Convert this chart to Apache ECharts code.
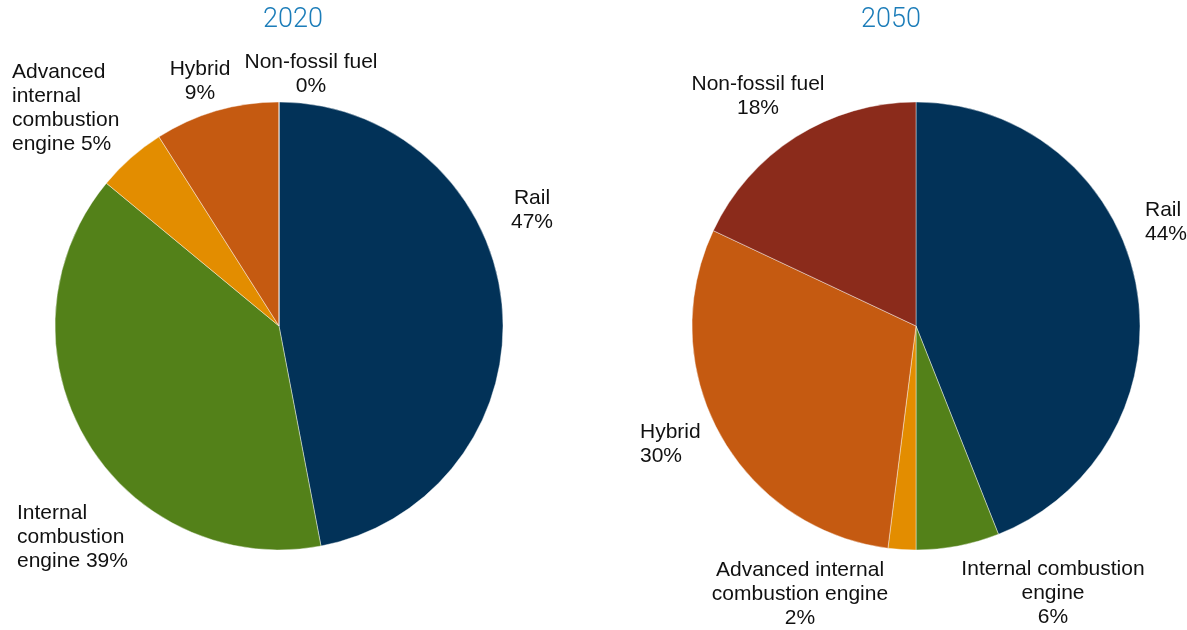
<!DOCTYPE html>
<html>
<head>
<meta charset="utf-8">
<title>Transport mode shares, 2020 and 2050</title>
<script src="https://cdn.jsdelivr.net/npm/echarts@6/dist/echarts.min.js"></script>
<style>
  html, body { margin: 0; padding: 0; background: #ffffff; }
  #chart { width: 1187px; height: 630px; }
</style>
</head>
<body>
<div id="chart"></div>
<script>
// Categories, in clockwise order starting at 12 o'clock
const categories = ['Rail', 'Internal combustion engine', 'Advanced internal combustion engine', 'Hybrid', 'Non-fossil fuel'];

// Shares (%) per year
const values2020 = [47, 39, 5, 9, 0];
const values2050 = [44, 6, 2, 30, 18];

const years = ['2020', '2050'];

// Slice colours, one per category
const sliceColors = ['#023258', '#538119', '#E38D00', '#C55A11', '#8B2B1B'];

// Label wording and placement for each pie (text block centre / left edge in px)
const labelStyle2020 = [
  { text: 'Rail\n{v}%', x: 532, y: 210, align: 'center' },
  { text: 'Internal\ncombustion\nengine {v}%', x: 17, y: 537, align: 'left' },
  { text: 'Advanced\ninternal\ncombustion\nengine {v}%', x: 12, y: 108, align: 'left' },
  { text: 'Hybrid\n{v}%', x: 200, y: 81, align: 'center' },
  { text: 'Non-fossil fuel\n{v}%', x: 311, y: 74, align: 'center' }
];
const labelStyle2050 = [
  { text: 'Rail\n{v}%', x: 1145, y: 222, align: 'left' },
  { text: 'Internal combustion\nengine\n{v}%', x: 1053, y: 593, align: 'center' },
  { text: 'Advanced internal\ncombustion engine\n{v}%', x: 800, y: 594, align: 'center' },
  { text: 'Hybrid\n{v}%', x: 640, y: 444, align: 'left' },
  { text: 'Non-fossil fuel\n{v}%', x: 758, y: 96, align: 'center' }
];
const labelStyles = [labelStyle2020, labelStyle2050];

const FONT = '"Liberation Sans", Arial, sans-serif';

function buildSeries(values, idx, center) {
  return {
    type: 'pie',
    name: years[idx],
    center: center,
    radius: 224,
    startAngle: 90,
    clockwise: true,
    avoidLabelOverlap: false,
    silent: true,
    animation: false,
    itemStyle: { borderColor: 'rgba(255,255,255,0.7)', borderWidth: 0.6 },
    label: {
      show: true,
      position: 'outside',
      color: '#111111',
      fontFamily: FONT,
      fontSize: 21,
      lineHeight: 24,
      formatter: function (p) {
        return labelStyles[idx][p.dataIndex].text.replace('{v}', p.value);
      }
    },
    labelLine: { show: false },
    labelLayout: function (p) {
      const s = labelStyles[idx][p.dataIndex];
      return { x: s.x, y: s.y, align: s.align, verticalAlign: 'middle', hideOverlap: false };
    },
    data: categories.map(function (c, i) {
      return { name: c, value: values[i], itemStyle: { color: sliceColors[i] } };
    })
  };
}

const chart = echarts.init(document.getElementById('chart'), null, { renderer: 'canvas' });
chart.setOption({
  backgroundColor: '#ffffff',
  animation: false,
  title: [
    {
      text: years[0], left: 288, top: 2, textAlign: 'center',
      textStyle: { color: '#1C7DB9', fontSize: 27, fontWeight: 300, fontFamily: 'Roboto, ' + FONT }
    },
    {
      text: years[1], left: 886, top: 2, textAlign: 'center',
      textStyle: { color: '#1C7DB9', fontSize: 27, fontWeight: 300, fontFamily: 'Roboto, ' + FONT }
    }
  ],
  series: [
    buildSeries(values2020, 0, [279, 326]),
    buildSeries(values2050, 1, [916, 326])
  ]
});
</script>
</body>
</html>
